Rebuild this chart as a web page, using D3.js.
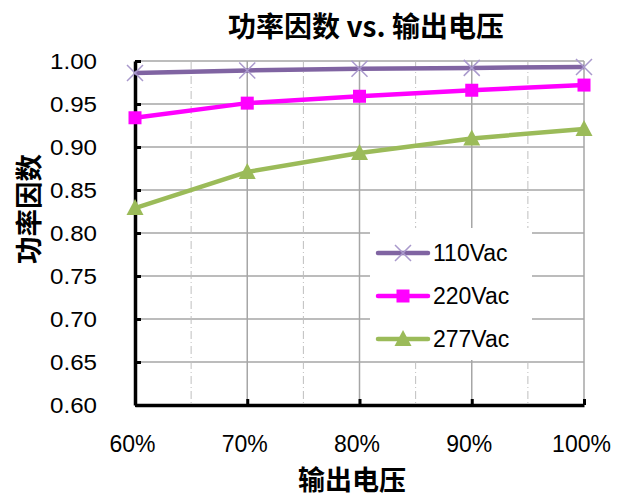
<!DOCTYPE html>
<html>
<head>
<meta charset="utf-8">
<script src="https://cdn.jsdelivr.net/npm/d3@7"></script>
<style>
  body { margin: 0; background: #fff; }
  text { font-family: "Liberation Sans", Arial, sans-serif; }
  .cjk { font-family: "Noto Sans CJK SC", sans-serif; font-weight: bold; }
</style>
</head>
<body>
<script>
const categories = [0.6, 0.7, 0.8, 0.9, 1.0]
const xTickLabels = ['60%', '70%', '80%', '90%', '100%']
const yTicks = [0.6, 0.65, 0.7, 0.75, 0.8, 0.85, 0.9, 0.95, 1.0]
const v110 = [0.986, 0.989, 0.991, 0.992, 0.993]
const v220 = [0.934, 0.951, 0.959, 0.966, 0.972]
const v277 = [0.829, 0.871, 0.893, 0.910, 0.921]
const seriesNames = ['110Vac', '220Vac', '277Vac']

const width = 617, height = 500
const margin = { top: 61, right: 33, bottom: 95, left: 135 }
const w = width - margin.left - margin.right
const h = height - margin.top - margin.bottom

const series = [
  { name: seriesNames[0], values: v110, color: '#8064a2', marker: 'cross', mcolor: '#a999cc' },
  { name: seriesNames[1], values: v220, color: '#ff00ff', marker: 'square', mcolor: '#ff00ff' },
  { name: seriesNames[2], values: v277, color: '#9bbb59', marker: 'triangle', mcolor: '#9bbb59' },
]

const x = d3.scaleLinear().domain([0.6, 1.0]).range([0, w])
const y = d3.scaleLinear().domain([0.6, 1.0]).range([h, 0])

const svg = d3.select('body').append('svg').attr('width', width).attr('height', height)
const g = svg.append('g').attr('transform', `translate(${margin.left},${margin.top})`)

// grid
g.append('g')
  .selectAll('line')
  .data(yTicks)
  .join('line')
  .attr('x1', 0).attr('x2', w)
  .attr('y1', d => y(d)).attr('y2', d => y(d))
  .attr('stroke', '#a6a6a6').attr('stroke-width', 1.5)

const minorX = [0.65, 0.75, 0.85, 0.95]
g.append('g')
  .selectAll('line')
  .data(minorX)
  .join('line')
  .attr('x1', d => x(d)).attr('x2', d => x(d))
  .attr('y1', 0).attr('y2', h)
  .attr('stroke', '#bfbfbf').attr('stroke-width', 1).attr('stroke-dasharray', '8,3,1,3')

g.append('g')
  .selectAll('line')
  .data(categories.slice(1))
  .join('line')
  .attr('x1', d => x(d)).attr('x2', d => x(d))
  .attr('y1', 0).attr('y2', h)
  .attr('stroke', '#a6a6a6').attr('stroke-width', 1.5)

// axes
const yAxis = d3.axisLeft(y).tickValues(yTicks).tickFormat(d3.format('.2f')).tickSizeInner(-6).tickSizeOuter(0).tickPadding(38)
g.append('g')
  .call(yAxis)
  .call(g => g.select('.domain').attr('stroke', '#000').attr('stroke-width', 3.5))
  .call(g => g.selectAll('.tick line').attr('stroke', '#000').attr('stroke-width', 3))
  .call(g => g.selectAll('text').attr('font-size', 22).attr('fill', '#000')
    .attr('textLength', 47).attr('lengthAdjust', 'spacingAndGlyphs'))

const xAxis = d3.axisBottom(x).tickValues(categories).tickFormat((d, i) => xTickLabels[i]).tickSizeInner(-6).tickSizeOuter(0)
g.append('g')
  .attr('transform', `translate(0,${h})`)
  .call(xAxis)
  .call(g => g.select('.domain').attr('stroke', '#000').attr('stroke-width', 3.5))
  .call(g => g.selectAll('.tick line').attr('stroke', '#000').attr('stroke-width', 3))
  .call(g => g.selectAll('text').attr('font-size', 23).attr('fill', '#000').attr('dy', null).attr('y', 47).attr('x', -3))

// legend background
const lg = g.append('g').attr('transform', 'translate(235,167)')
lg.append('rect').attr('width', 162).attr('height', 132).attr('fill', '#fff')

// series
const line = d3.line().x((d, i) => x(categories[i])).y(d => y(d))

function drawMarker(sel, type, color) {
  if (type === 'cross') {
    sel.append('path').attr('d', 'M-8,-8L8,8M-8,8L8,-8').attr('stroke', color).attr('stroke-width', 1.5).attr('fill', 'none')
  } else if (type === 'square') {
    sel.append('rect').attr('x', -6.5).attr('y', -6.5).attr('width', 13).attr('height', 13).attr('fill', color)
  } else {
    sel.append('path').attr('d', 'M0,-9L8.5,7L-8.5,7Z').attr('fill', color)
  }
}

series.forEach(s => {
  g.append('path')
    .datum(s.values)
    .attr('d', line)
    .attr('fill', 'none')
    .attr('stroke', s.color)
    .attr('stroke-width', 4.5)
    .attr('stroke-linejoin', 'round')
  g.append('g')
    .selectAll('g')
    .data(s.values)
    .join('g')
    .attr('transform', (d, i) => `translate(${x(categories[i])},${y(d)})`)
    .each(function () { drawMarker(d3.select(this), s.marker, s.mcolor) })
})

// legend items
series.forEach((s, i) => {
  const row = lg.append('g').attr('transform', `translate(8,${25 + i * 43})`)
  row.append('line').attr('x1', 0).attr('x2', 50).attr('stroke', s.color).attr('stroke-width', 4.5).attr('stroke-linecap', 'round')
  row.append('g').attr('transform', 'translate(25,0)').call(sel => drawMarker(sel, s.marker, s.mcolor))
  row.append('text').attr('x', 55).attr('y', 8).attr('font-size', 23).text(s.name)
})

// titles
svg.append('text').attr('class', 'cjk').attr('x', 366).attr('y', 37).attr('text-anchor', 'middle').attr('font-size', 28)
  .text('功率因数 vs. 输出电压')
svg.append('text').attr('class', 'cjk').attr('x', 352).attr('y', 490).attr('text-anchor', 'middle').attr('font-size', 27)
  .text('输出电压')
svg.append('text').attr('class', 'cjk').attr('transform', 'translate(39,209) rotate(-90)').attr('text-anchor', 'middle').attr('font-size', 27.5)
  .text('功率因数')
</script>
</body>
</html>
